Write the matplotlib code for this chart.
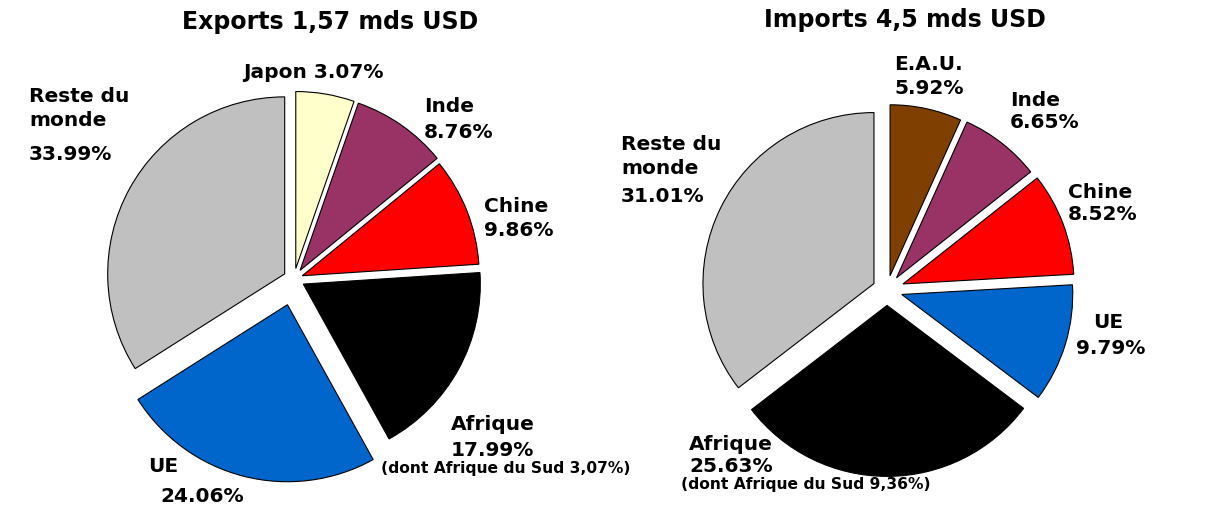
import matplotlib
matplotlib.use('Agg')
import matplotlib.pyplot as plt

# exports (parts en %, ordre horaire depuis le haut)
exp_pays = ['Japon', 'Inde', 'Chine', 'Afrique', 'UE', 'Reste du monde']
exp_parts = [5.34, 8.76, 9.86, 17.99, 24.06, 33.99]
exp_etiq = ['3.07%', '8.76%', '9.86%', '17.99%', '24.06%', '33.99%']
exp_sud = '3,07%'

# imports
imp_pays = ['E.A.U.', 'Inde', 'Chine', 'UE', 'Afrique', 'Reste du monde']
imp_parts = [5.92, 6.65, 8.52, 9.79, 25.63, 31.01]
imp_etiq = ['5.92%', '6.65%', '8.52%', '9.79%', '25.63%', '31.01%']
imp_sud = '9,36%'

couleurs = {'Japon': '#FFFFCC', 'Inde': '#993366', 'Chine': '#FF0000',
            'Afrique': '#000000', 'UE': '#0066CC', 'Reste du monde': '#C0C0C0',
            'E.A.U.': '#7F3F00'}

W, H = 1210, 512
fig = plt.figure(figsize=(W/100, H/100), dpi=100)
ax = fig.add_axes([0, 0, 1, 1])

def Y(y):  # coord image -> coord axe
    return H - y

def camembert(parts, pays, centre, rayon, explode):
    # explode de matplotlib est en unites de donnees -> on multiplie par le rayon
    ax.pie(parts, colors=[couleurs[p] for p in pays], explode=[e*rayon for e in explode],
           startangle=90, counterclock=False, center=(centre[0], Y(centre[1])),
           radius=rayon, wedgeprops=dict(edgecolor='black', linewidth=0.8))

camembert(exp_parts, exp_pays, (294, 279), 177, [0.06, 0.06, 0.05, 0.06, 0.15, 0.06])
camembert(imp_parts, imp_pays, (887, 290), 171, [0.085, 0.09, 0.1, 0.09, 0.09, 0.085])

def txt(s, x, y, size=14.5, ha='left'):
    ax.text(x, Y(y), s, fontsize=size, fontweight='bold', ha=ha, va='center',
            family='DejaVu Sans')

# titres
txt('Exports 1,57 mds USD', 330, 22, 17, 'center')
txt('Imports 4,5 mds USD', 905, 20, 17, 'center')

# etiquettes exports
txt('Japon ' + exp_etiq[0], 243, 73)
txt('Inde', 424, 107)
txt(exp_etiq[1], 424, 133)
txt('Chine', 484, 206)
txt(exp_etiq[2], 484, 231)
txt('Afrique', 451, 424)
txt(exp_etiq[3], 451, 450)
txt('(dont Afrique du Sud ' + exp_sud + ')', 506, 469, 11.2, 'center')
txt('UE', 148, 466)
txt(exp_etiq[4], 160, 497)
txt('Reste du', 29, 97)
txt('monde', 29, 121)
txt(exp_etiq[5], 29, 155)

# etiquettes imports
txt('E.A.U.', 894, 65)
txt(imp_etiq[0], 894, 88)
txt('Inde', 1010, 100)
txt(imp_etiq[1], 1010, 123)
txt('Chine', 1068, 192)
txt(imp_etiq[2], 1068, 215)
txt('UE', 1108, 322, ha='center')
txt(imp_etiq[3], 1111, 348, ha='center')
txt('Afrique', 689, 444)
txt(imp_etiq[4], 689, 467)
txt('(dont Afrique du Sud ' + imp_sud + ')', 806, 485, 11.2, 'center')
txt('Reste du', 621, 144)
txt('monde', 621, 169)
txt(imp_etiq[5], 621, 197)

ax.set_xlim(0, W)
ax.set_ylim(0, H)
ax.set_aspect('auto')
ax.axis('off')

plt.savefig('out.png', dpi=100)
